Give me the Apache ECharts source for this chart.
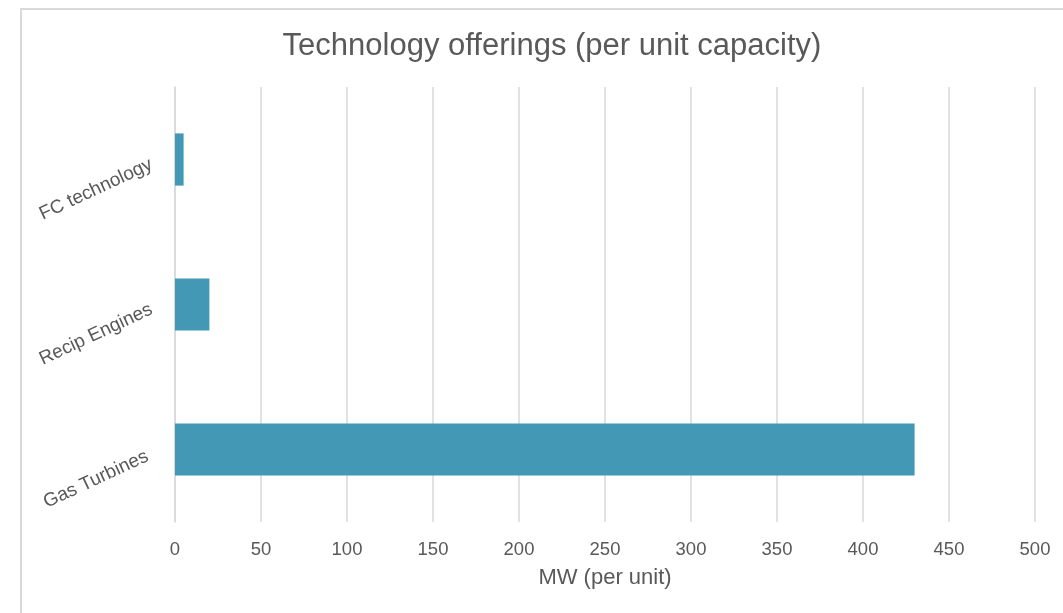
<!DOCTYPE html>
<html><head><meta charset="utf-8">
<script src="https://cdn.jsdelivr.net/npm/echarts@6/dist/echarts.min.js"></script>
<style>html,body{margin:0;padding:0;background:#fff;}#c{width:1063px;height:613px;}</style>
</head><body><div id="c"></div>
<script>
const categories = ['Gas Turbines', 'Recip Engines', 'FC technology'];
const values = [430, 20, 5];
const xTicks = {min: 0, max: 500, interval: 50};

const chart = echarts.init(document.getElementById('c'));
chart.setOption({
  animation: false,
  textStyle: {fontFamily: 'Liberation Sans, Arial, sans-serif'},
  graphic: [{
    type: 'rect', left: 20, top: 8, z: -1,
    shape: {x: 0, y: 0, width: 1070, height: 640},
    style: {fill: '#fff', stroke: '#d9d9d9', lineWidth: 2}
  }],
  title: {
    text: 'Technology offerings (per unit capacity)',
    left: 547, top: 26, textAlign: 'center',
    textStyle: {fontSize: 31, fontWeight: 'normal', color: '#595959', fontFamily: 'Liberation Sans, Arial, sans-serif'}
  },
  grid: {left: 175, right: 28, top: 87, bottom: 91, containLabel: false},
  xAxis: {
    type: 'value', min: xTicks.min, max: xTicks.max, interval: xTicks.interval,
    name: 'MW (per unit)', nameLocation: 'middle', nameGap: 45,
    nameTextStyle: {fontSize: 22, color: '#595959'},
    axisLine: {show: false}, axisTick: {show: false},
    axisLabel: {fontSize: 18.5, color: '#595959', margin: 18},
    splitLine: {lineStyle: {color: '#d9d9d9', width: 1.5}}
  },
  yAxis: {
    type: 'category', data: categories,
    axisLine: {show: true, lineStyle: {color: '#d9d9d9', width: 1.5}},
    axisTick: {show: false},
    axisLabel: {fontSize: 19, color: '#595959', rotate: 25, margin: 93, interval: 0,
      align: 'center', verticalAlign: 'top', lineHeight: 66}
  },
  series: [{
    type: 'bar', data: values, barWidth: '36%',
    itemStyle: {color: '#4398b5'}
  }]
});
</script></body></html>
